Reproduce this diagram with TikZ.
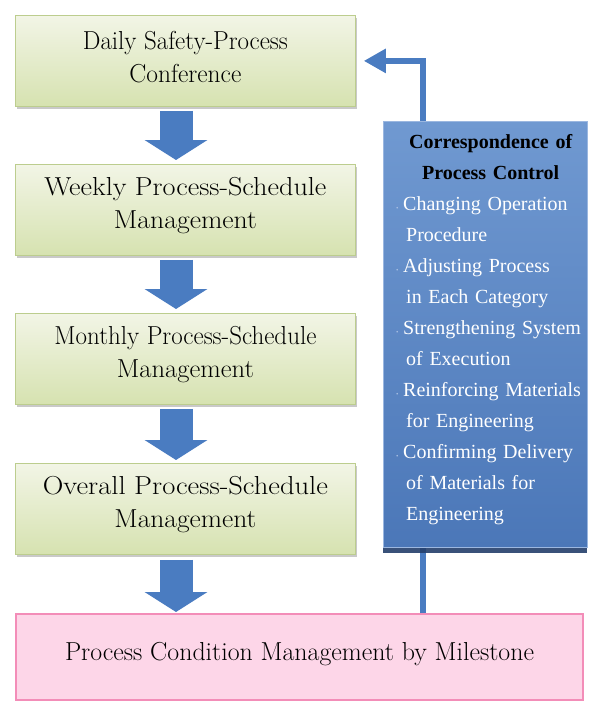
\documentclass[tikz,border=0pt]{standalone}
\usepackage{fontspec}
\usepackage{graphicx}
\newfontfamily\serifb{Liberation Serif}
\usetikzlibrary{arrows.meta,shadows,calc}
\definecolor{arrowblue}{HTML}{4A7CC1}
\definecolor{gtop}{HTML}{F2F5E6}
\definecolor{gbot}{HTML}{D6E2B0}
\definecolor{gline}{HTML}{BCCD8E}
\definecolor{pfill}{HTML}{FDD6E8}
\definecolor{pline}{HTML}{F38DB8}
\definecolor{btop}{HTML}{7099D1}
\definecolor{bbot}{HTML}{4B77B8}
\definecolor{bline}{HTML}{9BB7E0}
\definecolor{bshadow}{HTML}{243F6B}
\definecolor{bulc}{HTML}{A9C0E3}
\newcommand\fw[2]{\resizebox{#1}{\height}{#2}}
\newcommand\bul{\makebox[7pt][l]{\textcolor{bulc}{\fontsize{7}{7}\selectfont\textbullet}}}
\tikzset{
  gbox/.style={draw=gline, line width=0.8pt, top color=gtop, bottom color=gbot,
    minimum width=340pt, minimum height=91pt, inner sep=0pt, anchor=north west,
    drop shadow={shadow xshift=1.5pt, shadow yshift=-3pt, opacity=0.35, fill=black!60}},
  gtext/.style={inner sep=0pt, align=center, font=\fontsize{26}{33}\selectfont},
  pbox/.style={draw=pline, line width=2pt, fill=pfill, minimum width=567pt,
    minimum height=86pt, inner sep=0pt, anchor=north west},
  bbox/.style={draw=bline, line width=0.8pt, top color=btop, bottom color=bbot,
    minimum width=204pt, minimum height=426pt, inner sep=0pt, anchor=north west,
    drop shadow={shadow xshift=0pt, shadow yshift=-6pt, opacity=0.9, fill=bshadow}},
  blockarrow/.style={draw=arrowblue, line width=33pt,
    -{Triangle[width=62pt,length=20pt]}},
  conn/.style={draw=arrowblue, line width=6pt, line join=miter}
}
\begin{document}
\begin{tikzpicture}[x=1pt,y=-1pt]
\useasboundingbox (0,0) rectangle (589,702);
\fill[white] (0,0) rectangle (589,702);

\coordinate (ax) at (176,0);
\coordinate (cx) at (423,0);

\node[gbox] (b1) at (15,15) {};
\node[gbox] (b2) at (15,164) {};
\node[gbox] (b3) at (15,313) {};
\node[gbox] (b4) at (15,463) {};
\node[pbox] (pk) at (15,613) {};

\node[gtext] (t1) at ($(b1.center)+(0,-4)$) {\fw{205pt}{Daily Safety-Process}\\ \fw{112pt}{Conference}};
\node[gtext] (t2) at ($(b2.center)+(0,-4)$) {\fw{282pt}{Weekly Process-Schedule}\\ \fw{143pt}{Management}};
\node[gtext] (t3) at ($(b3.center)+(0,-4)$) {\fw{262pt}{Monthly Process-Schedule}\\ \fw{137pt}{Management}};
\node[gtext] (t4) at ($(b4.center)+(0,-4)$) {\fw{285pt}{Overall Process-Schedule}\\ \fw{142pt}{Management}};
\node[gtext] (tp) at ($(pk.center)+(0,-3)$) {\fw{469pt}{Process Condition Management by Milestone}};

\draw[conn] (cx |- pk.north) -- (cx |- 0,540);
\draw[conn, -{Triangle[width=23pt,length=22pt]}] (cx |- 0,130) |- ($(b1.east)+(8,0)$);

\node[bbox] (bl) at (383,121) {};
\node[anchor=north west, inner sep=0pt, text width=204pt, align=left,
  font=\serifb\fontsize{20}{31}\selectfont, text=white] (bt) at (383,134) {%
\makebox[204pt]{\hspace*{11pt}\textcolor{black}{\bfseries Correspondence of}}\\
\makebox[204pt]{\hspace*{11pt}\textcolor{black}{\bfseries Process Control}}\\
\hspace*{13pt}\bul Changing Operation\\
\hspace*{23pt}Procedure\\
\hspace*{13pt}\bul Adjusting Process\\
\hspace*{23pt}in Each Category\\
\hspace*{13pt}\bul Strengthening System\\
\hspace*{23pt}of Execution\\
\hspace*{13pt}\bul Reinforcing Materials\\
\hspace*{23pt}for Engineering\\
\hspace*{13pt}\bul Confirming Delivery\\
\hspace*{23pt}of Materials for\\
\hspace*{23pt}Engineering};

\draw[blockarrow] ($(b1.south -| ax)+(0,4)$) -- ($(b2.north -| ax)+(0,-4)$);
\draw[blockarrow] ($(b2.south -| ax)+(0,4)$) -- ($(b3.north -| ax)+(0,-4)$);
\draw[blockarrow] ($(b3.south -| ax)+(0,4)$) -- ($(b4.north -| ax)+(0,-3)$);
\draw[blockarrow] ($(b4.south -| ax)+(0,5)$) -- ($(pk.north -| ax)+(0,-1)$);
\end{tikzpicture}
\end{document}
